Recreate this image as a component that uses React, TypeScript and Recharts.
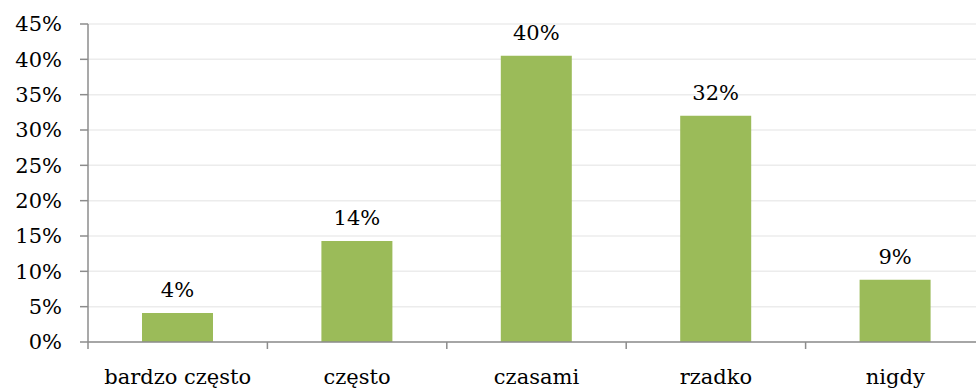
import { BarChart, Bar, XAxis, YAxis, CartesianGrid, LabelList } from "recharts";

const categories = ["bardzo często", "często", "czasami", "rzadko", "nigdy"];
const shares = [4.1, 14.3, 40.5, 32.0, 8.8];
const shareLabels = ["4%", "14%", "40%", "32%", "9%"];
const yTicks = [0, 5, 10, 15, 20, 25, 30, 35, 40, 45];

const chartData = categories.map((name, i) => ({ name, value: shares[i], label: shareLabels[i] }));

const FONT = "'DejaVu Serif', serif";
const FS = 21;
const CHART_W = 990;
const PLOT_LEFT = 88;
const PLOT_RIGHT = 5;
const BAND = (CHART_W - PLOT_LEFT - PLOT_RIGHT) / categories.length;

function XTick(props: any) {
    const { x, y, payload } = props;
    const left = x - BAND / 2;
    return (
        <g>
            <line x1={left} y1={y - 8} x2={left} y2={y - 1} stroke="#8c8c8c" strokeWidth={1.5} />
            <text x={x} y={y + 34} textAnchor="middle" fontFamily={FONT} fontSize={FS} fill="#000">
                {payload.value}
            </text>
        </g>
    );
}

function BarLabel(props: any) {
    const { x, y, width, index } = props;
    return (
        <text x={x + width / 2} y={y - 16} textAnchor="middle" fontFamily={FONT} fontSize={FS} fill="#000">
            {shareLabels[index]}
        </text>
    );
}

export default function App() {
    return (
        <div style={{ position: "absolute", left: 0, top: 0, width: 976, height: 389, overflow: "hidden", background: "#fff" }}>
            <BarChart
                width={CHART_W}
                height={389}
                data={chartData}
                margin={{ top: 24, right: PLOT_RIGHT, bottom: 7, left: 0 }}
                barSize={71}
            >
                <CartesianGrid vertical={false} stroke="#ececec" strokeWidth={1.5} />
                <XAxis
                    dataKey="name"
                    interval={0}
                    height={40}
                    axisLine={{ stroke: "#8c8c8c", strokeWidth: 1.5 }}
                    tickLine={false}
                    tick={<XTick />}
                />
                <YAxis
                    type="number"
                    domain={[0, 45]}
                    ticks={yTicks}
                    interval={0}
                    width={PLOT_LEFT}
                    tickSize={8}
                    tickMargin={18}
                    axisLine={{ stroke: "#8c8c8c", strokeWidth: 1.5 }}
                    tickLine={{ stroke: "#8c8c8c", strokeWidth: 1.5 }}
                    tickFormatter={(v: number) => `${v}%`}
                    tick={{ fontFamily: FONT, fontSize: FS, fill: "#000" }}
                />
                <Bar dataKey="value" fill="#9bbb59" isAnimationActive={false}>
                    <LabelList dataKey="label" content={<BarLabel />} />
                </Bar>
            </BarChart>
        </div>
    );
}
